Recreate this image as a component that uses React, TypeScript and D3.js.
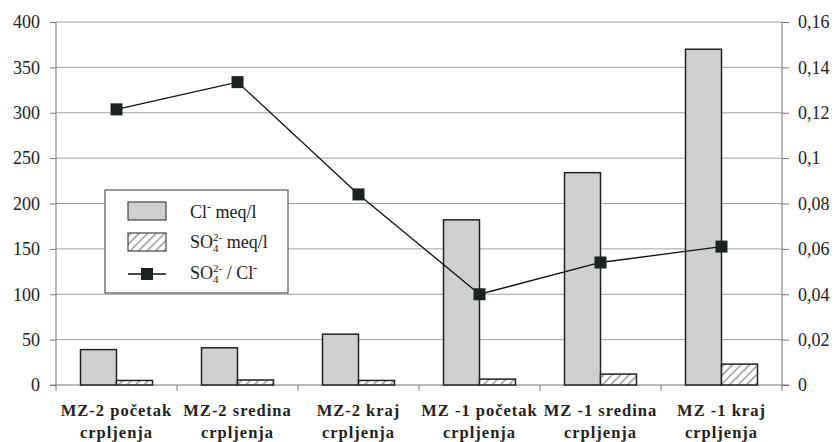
import React, { useEffect, useRef } from 'react';
import * as d3 from 'd3';

// chart data
const categories = [
  'MZ-2 početak|crpljenja',
  'MZ-2 sredina|crpljenja',
  'MZ-2 kraj|crpljenja',
  'MZ -1 početak|crpljenja',
  'MZ -1 sredina|crpljenja',
  'MZ -1 kraj|crpljenja',
];
const clValues = [39, 41, 56, 182, 234, 370];
const so4Values = [5, 5.5, 5, 6.5, 12, 23];
const ratioValues = [0.1215, 0.1335, 0.084, 0.04, 0.054, 0.061];
const leftTicks = [0, 50, 100, 150, 200, 250, 300, 350, 400];
const rightTicks = [0, 0.02, 0.04, 0.06, 0.08, 0.1, 0.12, 0.14, 0.16];

const FONT = "'Liberation Serif', 'Times New Roman', serif";

const App = () => {
  const svgRef = useRef<SVGSVGElement>(null);

  useEffect(() => {
    const W = 836, H = 442;
    const margin = { top: 22, right: 54, bottom: 57, left: 56 };
    const width = W - margin.left - margin.right;
    const height = H - margin.top - margin.bottom;

    const root = d3.select(svgRef.current);
    root.selectAll('*').remove();
    root.attr('width', W).attr('height', H);

    // hatch pattern for SO4 bars
    const defs = root.append('defs');
    const pat = defs.append('pattern')
      .attr('id', 'hatch')
      .attr('patternUnits', 'userSpaceOnUse')
      .attr('width', 6).attr('height', 6)
      .attr('patternTransform', 'rotate(45)');
    pat.append('rect').attr('width', 6).attr('height', 6).attr('fill', '#fff');
    pat.append('line')
      .attr('x1', 0).attr('y1', 0).attr('x2', 0).attr('y2', 6)
      .attr('stroke', '#9a9a9a').attr('stroke-width', 3);

    const svg = root.append('g').attr('transform', `translate(${margin.left},${margin.top})`);

    const x = d3.scaleBand().domain(categories).range([0, width]);
    const yL = d3.scaleLinear().domain([0, 400]).range([height, 0]);
    const yR = d3.scaleLinear().domain([0, 0.16]).range([height, 0]);

    // grid lines
    svg.append('g')
      .selectAll('line')
      .data(leftTicks.filter(d => d > 0))
      .enter().append('line')
      .attr('x1', 0).attr('x2', width)
      .attr('y1', d => yL(d)).attr('y2', d => yL(d))
      .attr('stroke', '#a0a0a0').attr('stroke-width', 1);

    // left axis
    const left = svg.append('g')
      .call(d3.axisLeft(yL).tickValues(leftTicks).tickSize(6).tickPadding(10).tickFormat(d3.format('d')))
      .attr('font-family', null).attr('font-size', null);
    left.select('.domain').attr('stroke', '#777').attr('d', `M0,${height}V0`);
    left.selectAll('.tick line').attr('stroke', '#777');
    left.selectAll('text').style('font-family', FONT).style('font-size', '18px').attr('fill', '#222');

    // right axis
    const right = svg.append('g')
      .attr('transform', `translate(${width},0)`)
      .call(d3.axisRight(yR).tickValues(rightTicks).tickSize(7).tickPadding(9)
        .tickFormat(d => d === 0 ? '0' : d3.format('.2f')(d as number).replace(/0$/, '').replace('.', ',')))
      .attr('font-family', null).attr('font-size', null);
    right.select('.domain').attr('stroke', '#777').attr('d', `M0,${height}V0`);
    right.selectAll('.tick line').attr('stroke', '#777');
    right.selectAll('text').style('font-family', FONT).style('font-size', '18px').attr('fill', '#222');

    // bottom axis
    const bottom = svg.append('g').attr('transform', `translate(0,${height})`);
    bottom.append('line').attr('x1', -6).attr('x2', width + 7).attr('stroke', '#777');
    bottom.selectAll('line.cat')
      .data(d3.range(categories.length + 1))
      .enter().append('line')
      .attr('class', 'cat')
      .attr('x1', i => i * x.step()).attr('x2', i => i * x.step())
      .attr('y1', 0).attr('y2', 6)
      .attr('stroke', '#777');

    const labels = bottom.selectAll('text.cat')
      .data(categories)
      .enter().append('text')
      .attr('class', 'cat')
      .attr('text-anchor', 'middle')
      .style('font-family', FONT)
      .style('font-weight', 'bold')
      .style('font-size', '16.5px')
      .style('letter-spacing', '1px')
      .attr('fill', '#222');
    labels.each(function (d) {
      const parts = d.split('|');
      const t = d3.select(this);
      parts.forEach((p, i) => {
        t.append('tspan')
          .attr('x', (x(d) as number) + x.bandwidth() / 2)
          .attr('y', 31 + i * 22)
          .text(p);
      });
    });

    // bars
    const barW = 36;
    svg.selectAll('rect.cl')
      .data(clValues)
      .enter().append('rect')
      .attr('class', 'cl')
      .attr('x', (d, i) => (x(categories[i]) as number) + x.bandwidth() / 2 - barW)
      .attr('y', d => yL(d))
      .attr('width', barW)
      .attr('height', d => height - yL(d))
      .attr('fill', '#d0d0d0')
      .attr('stroke', '#222')
      .attr('stroke-width', 1.5);

    svg.selectAll('rect.so4')
      .data(so4Values)
      .enter().append('rect')
      .attr('class', 'so4')
      .attr('x', (d, i) => (x(categories[i]) as number) + x.bandwidth() / 2)
      .attr('y', d => yL(d))
      .attr('width', barW)
      .attr('height', d => height - yL(d))
      .attr('fill', 'url(#hatch)')
      .attr('stroke', '#222')
      .attr('stroke-width', 1.5);

    // ratio line
    const line = d3.line<number>()
      .x((d, i) => (x(categories[i]) as number) + x.bandwidth() / 2)
      .y(d => yR(d));
    svg.append('path')
      .datum(ratioValues)
      .attr('fill', 'none')
      .attr('stroke', '#111')
      .attr('stroke-width', 1.3)
      .attr('d', line);
    const ms = 12;
    svg.selectAll('rect.mk')
      .data(ratioValues)
      .enter().append('rect')
      .attr('class', 'mk')
      .attr('x', (d, i) => (x(categories[i]) as number) + x.bandwidth() / 2 - ms / 2)
      .attr('y', d => yR(d) - ms / 2)
      .attr('width', ms).attr('height', ms)
      .attr('fill', '#1c2222');

    // legend
    const lg = root.append('g').attr('transform', 'translate(105,190)');
    lg.append('rect').attr('width', 183).attr('height', 103)
      .attr('fill', '#fff').attr('stroke', '#555').attr('stroke-width', 1.2);
    lg.append('rect').attr('x', 23).attr('y', 12).attr('width', 38).attr('height', 18)
      .attr('fill', '#d0d0d0').attr('stroke', '#444').attr('stroke-width', 1.2);
    lg.append('rect').attr('x', 23).attr('y', 43).attr('width', 38).attr('height', 18)
      .attr('fill', 'url(#hatch)').attr('stroke', '#444').attr('stroke-width', 1.2);
    lg.append('line').attr('x1', 23).attr('x2', 61).attr('y1', 84).attr('y2', 84)
      .attr('stroke', '#111').attr('stroke-width', 1.3);
    lg.append('rect').attr('x', 36).attr('y', 78).attr('width', 12).attr('height', 12)
      .attr('fill', '#1c2222');

    // legend text pieces placed one after another, measured as they go
    type Piece = { s: string; size: number; dy: number; stack?: boolean };
    const drawRow = (yy: number, pieces: Piece[]) => {
      let cx = 85;
      let lastW = 0;
      pieces.forEach(p => {
        const px = p.stack ? cx - lastW : cx;
        const t = lg.append('text')
          .attr('x', px).attr('y', yy + p.dy)
          .style('font-family', FONT).style('font-size', `${p.size}px`)
          .attr('fill', '#222')
          .text(p.s);
        const w = (t.node() as SVGTextElement).getComputedTextLength();
        if (p.stack) cx = Math.max(cx, px + w);
        else { cx = px + w; lastW = w; }
      });
    };
    drawRow(28, [
      { s: 'Cl', size: 18, dy: 0 },
      { s: '-', size: 12, dy: -7 },
      { s: '\u00a0meq/l', size: 18, dy: 0 },
    ]);
    drawRow(58, [
      { s: 'SO', size: 18, dy: 0 },
      { s: '2-', size: 11, dy: -7 },
      { s: '4', size: 11, dy: 4, stack: true },
      { s: '\u00a0meq/l', size: 18, dy: 0 },
    ]);
    drawRow(89, [
      { s: 'SO', size: 18, dy: 0 },
      { s: '2-', size: 11, dy: -7 },
      { s: '4', size: 11, dy: 4, stack: true },
      { s: '\u00a0/ Cl', size: 18, dy: 0 },
      { s: '-', size: 12, dy: -7 },
    ]);
  }, []);

  return <svg ref={svgRef} style={{ position: 'absolute', left: 0, top: 0 }}></svg>;
};

export default App;
